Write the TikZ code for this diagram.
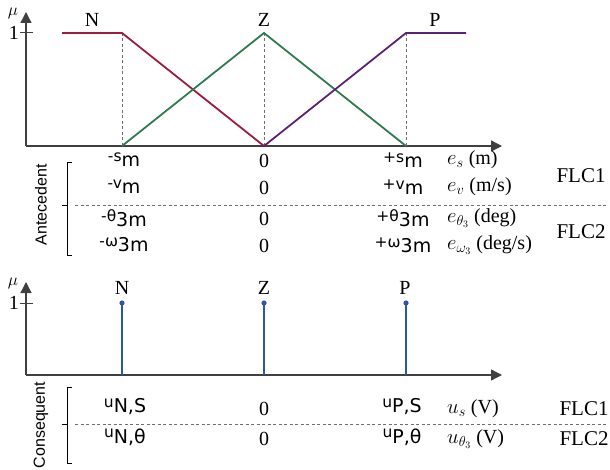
\documentclass[tikz,border=0pt]{standalone}
\usepackage{fontspec}
\setmainfont{Liberation Serif}
\newfontfamily\vsans{DejaVu Sans}
\newfontfamily\asans{Liberation Sans}
\usetikzlibrary{arrows.meta}
\definecolor{cN}{HTML}{9B1C3C}
\definecolor{cZ}{HTML}{2E7B50}
\definecolor{cP}{HTML}{5C2272}
\definecolor{cS}{HTML}{2E56A6}
\definecolor{axgray}{HTML}{404040}
\definecolor{dashgray}{HTML}{6E6E6E}
\newcommand\lift[1]{\raisebox{0.28em}{\fontsize{15.5}{15.5}\selectfont #1}}
\tikzset{
  ax/.style={draw=axgray, line width=1.3pt, -{Triangle[length=11pt,width=11pt]}},
  guide/.style={draw=dashgray, line width=0.9pt, dash pattern=on 3pt off 2.5pt},
  mfN/.style={draw=cN, line width=1.8pt},
  mfZ/.style={draw=cZ, line width=1.8pt},
  mfP/.style={draw=cP, line width=1.8pt},
  stem/.style={draw=cS, line width=1.8pt},
  lbl/.style={font=\fontsize{20}{20}\selectfont, inner sep=0pt},
  mulbl/.style={font=\fontsize{18}{18}\selectfont, inner sep=0pt},
  val/.style={font=\vsans\fontsize{19}{19}\selectfont, inner sep=0pt},
  num/.style={font=\fontsize{20}{20}\selectfont, inner sep=0pt},
  unit/.style={anchor=west, font=\fontsize{20}{20}\selectfont, inner sep=0pt},
  flc/.style={font=\fontsize{21}{21}\selectfont, inner sep=0pt},
  side/.style={rotate=90, font=\asans\fontsize{16}{16}\selectfont, inner sep=0pt},
  brk/.style={draw=black, line width=0.8pt},
  tick/.style={draw=axgray, line width=1pt},
}
\begin{document}
\begin{tikzpicture}[x=1pt,y=-1pt]
\useasboundingbox (0,0) rectangle (610,470);
% ---------- top plot ----------
\coordinate (o1) at (26,146);
\coordinate (y1) at (26,12);
\coordinate (x1) at (502,146);
\draw[ax] (o1) -- (y1);
\draw[ax] (o1) -- (x1);
\draw[tick] (20,33) -- (33,33);
\node[lbl, anchor=east] (one1) at (19,33) {1};
\node[mulbl] (mu1) at (13,13) {$\mu$};
\draw[guide] (122,33) -- (122,146);
\draw[guide] (264,33) -- (264,146);
\draw[guide] (406,33) -- (406,146);
\draw[mfN] (62,33) -- (122,33) -- (264,146);
\draw[mfZ] (122,146) -- (264,33) -- (406,146);
\draw[mfP] (264,146) -- (406,33) -- (466,33);
\node[lbl] (N1) at (92,20) {N};
\node[lbl] (Z1) at (264,20) {Z};
\node[lbl] (P1) at (435,20) {P};
% ---------- antecedent table ----------
\node[val] (a11) at (124,160) {\lift{-s}m};
\node[val] (a21) at (124,187) {\lift{-v}m};
\node[val] (a31) at (124,218) {\lift{-θ}3m};
\node[val] (a41) at (124,245) {\lift{-ω}3m};
\node[num] (a12) at (264,161) {0};
\node[num] (a22) at (264,188) {0};
\node[num] (a32) at (264,219) {0};
\node[num] (a42) at (264,246) {0};
\node[val] (a13) at (403,160) {\lift{+s}m};
\node[val] (a23) at (403,187) {\lift{+v}m};
\node[val] (a33) at (403,218) {\lift{+θ}3m};
\node[val] (a43) at (403,245) {\lift{+ω}3m};
\node[unit] (a14) at (447,160) {$e_{s}$ (m)};
\node[unit] (a24) at (447,187) {$e_{v}$ (m/s)};
\node[unit] (a34) at (447,218) {$e_{\theta_3}$ (deg)};
\node[unit] (a44) at (447,245) {$e_{\omega_3}$ (deg/s)};
\node[flc] (f1) at (581,176) {FLC1};
\node[flc] (f2) at (581,232) {FLC2};
\draw[guide] (75,205) -- (608,205);
\draw[brk] (72,162) -- (67,162) -- (67,255) -- (72,255);
\draw[brk] (62,205) -- (67,205);
\node[side] (ant) at (41,205) {Antecedent};
% ---------- bottom plot ----------
\coordinate (o2) at (26,375);
\coordinate (y2) at (26,282);
\coordinate (x2) at (502,375);
\draw[ax] (o2) -- (y2);
\draw[ax] (o2) -- (x2);
\draw[tick] (20,303) -- (33,303);
\node[lbl, anchor=east] (one2) at (19,303) {1};
\node[mulbl] (mu2) at (13,283) {$\mu$};
\draw[stem] (122,375) -- (122,303);
\draw[stem] (264,375) -- (264,303);
\draw[stem] (406,375) -- (406,303);
\fill[cS] (122,303) circle (2.6pt);
\fill[cS] (264,303) circle (2.6pt);
\fill[cS] (406,303) circle (2.6pt);
\node[lbl] (N2) at (122,288) {N};
\node[lbl] (Z2) at (264,288) {Z};
\node[lbl] (P2) at (405,288) {P};
% ---------- consequent table ----------
\node[val] (c11) at (125,407) {\lift{u}N,S};
\node[val] (c21) at (125,437) {\lift{u}N,θ};
\node[num] (c12) at (264,409) {0};
\node[num] (c22) at (264,439) {0};
\node[val] (c13) at (402,407) {\lift{u}P,S};
\node[val] (c23) at (402,437) {\lift{u}P,θ};
\node[unit] (c14) at (447,409) {$u_{s}$ (V)};
\node[unit] (c24) at (447,439) {$u_{\theta_3}$ (V)};
\node[flc] (g1) at (584,409) {FLC1};
\node[flc] (g2) at (584,439) {FLC2};
\draw[guide] (75,424) -- (608,424);
\draw[brk] (72,387) -- (67,387) -- (67,463) -- (72,463);
\draw[brk] (62,424) -- (67,424);
\node[side] (con) at (41,425) {Consequent};
\end{tikzpicture}
\end{document}
